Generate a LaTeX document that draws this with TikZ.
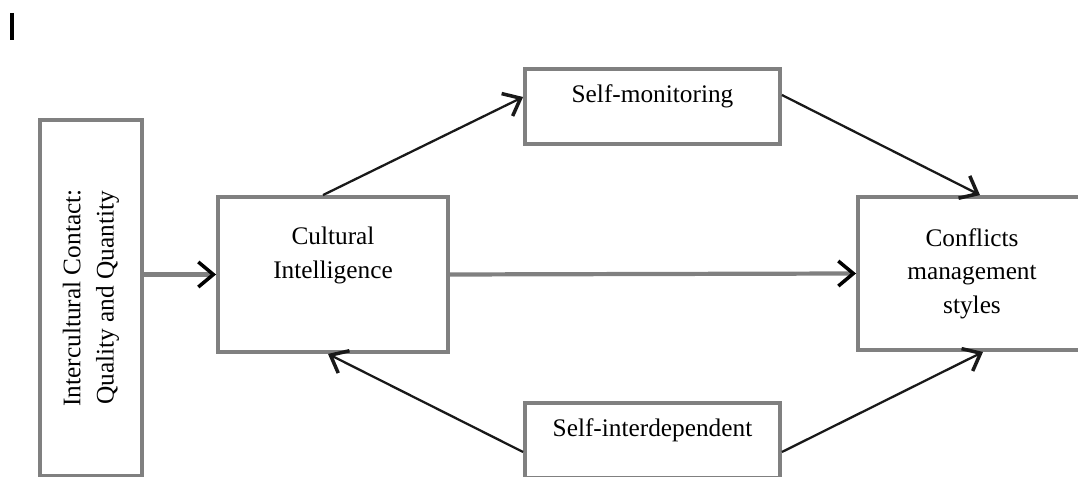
\documentclass[tikz,border=0pt]{standalone}
\usepackage{fontspec}
\setmainfont{Liberation Serif}
\usetikzlibrary{arrows.meta,positioning}

\begin{document}
\begin{tikzpicture}[
box/.style={draw=black!50,line width=2.2pt,align=center,inner sep=2mm,
font=\fontsize{14.4}{19}\selectfont},
upper/.style={text height=10pt,text depth=14pt},
link/.style={-{Straight Barb[length=3mm,width=5mm,line width=2pt]},line width=1.3pt,draw=black!90},
mainlink/.style={-{Straight Barb[length=3mm,width=5mm,line width=2pt,color=black]},line width=2.4pt,draw=black!50}]
\useasboundingbox (0,0) rectangle (21.56,-9.54);
\draw[line width=2.2pt] (0.24,-0.26) -- (0.24,-0.8);
\node[box,rotate=90,minimum width=71.2mm,minimum height=20.4mm] (contact) at (1.82,-5.96) {Intercultural Contact:\\Quality and Quantity};
\node[box,minimum width=46mm,minimum height=31mm] (cultural) at (6.66,-5.49) {Cultural\\Intelligence\\\strut};
\node[box,upper,minimum width=51mm,minimum height=15mm] (monitor) at (13.05,-2.13) {Self-monitoring};
\node[box,upper,minimum width=51mm,minimum height=15mm] (interdep) at (13.05,-8.81) {Self-interdependent};
\node[box,minimum width=45.6mm,minimum height=30.6mm] (conflicts) at (19.44,-5.47) {Conflicts\\management\\styles};
\draw[mainlink] (contact.south |- cultural.west) -- (cultural.west);
\draw[mainlink] (cultural.east) -- (conflicts.west);
\draw[link] ([xshift=-2mm]cultural.north) -- ([yshift=1.9mm]monitor.west);
\draw[link] ([yshift=2.3mm]monitor.east) -- ([xshift=1.6mm]conflicts.north);
\draw[link] ([yshift=-2.3mm]interdep.west) -- ([xshift=-1mm]cultural.south);
\draw[link] ([yshift=-2.3mm]interdep.east) -- ([xshift=2.2mm]conflicts.south);
\end{tikzpicture}
\end{document}
